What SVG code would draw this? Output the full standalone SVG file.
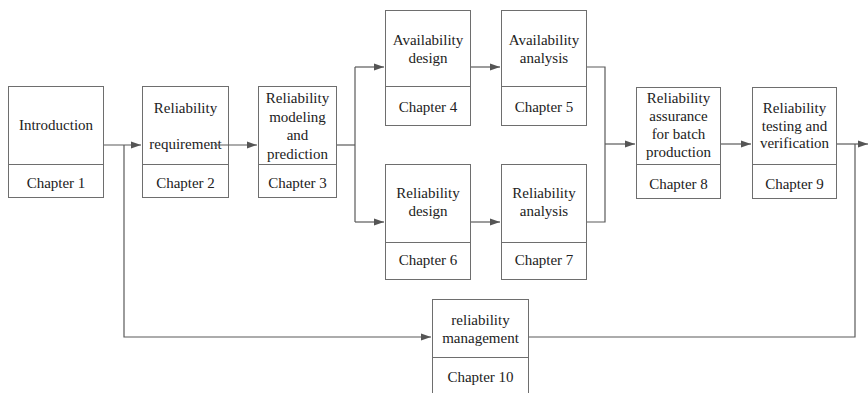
<svg xmlns="http://www.w3.org/2000/svg" width="868" height="393" viewBox="0 0 868 393">
<defs>
<marker id="ah" markerUnits="userSpaceOnUse" markerWidth="11" markerHeight="8" refX="10" refY="4" orient="auto">
<path d="M0,0.5 L10,4 L0,7.5 z" fill="#555"/>
</marker>
<style>
.box{fill:#fff;stroke:#6e6e6e;stroke-width:1}
.t{font-family:"Liberation Serif","Times New Roman",serif;font-size:15px;fill:#222;text-anchor:middle}
.c{fill:none;stroke:#5a5a5a;stroke-width:1.2}
</style>
</defs>
<rect width="868" height="393" fill="#fff"/>
<g id="n1">
<rect class="box" x="8.5" y="86.5" width="95" height="111"/>
<line class="box" x1="8.5" y1="164.5" x2="103.5" y2="164.5"/>
<text class="t" x="56" y="130">Introduction</text>
<text class="t" x="56" y="188">Chapter 1</text>
</g>
<g id="n2">
<rect class="box" x="142.5" y="86.5" width="86" height="111"/>
<line class="box" x1="142.5" y1="164.5" x2="228.5" y2="164.5"/>
<text class="t" x="185.5" y="113">Reliability</text>
<text class="t" x="185.5" y="149">requirement</text>
<text class="t" x="185.5" y="188">Chapter 2</text>
</g>
<g id="n3">
<rect class="box" x="258.5" y="86.5" width="78" height="111"/>
<line class="box" x1="258.5" y1="164.5" x2="336.5" y2="164.5"/>
<text class="t" x="297.5" y="103">Reliability</text>
<text class="t" x="297.5" y="121.5">modeling</text>
<text class="t" x="297.5" y="140">and</text>
<text class="t" x="297.5" y="158.5">prediction</text>
<text class="t" x="297.5" y="188">Chapter 3</text>
</g>
<g id="n4">
<rect class="box" x="385.5" y="10.5" width="85" height="115"/>
<line class="box" x1="385.5" y1="86.5" x2="470.5" y2="86.5"/>
<text class="t" x="428" y="45">Availability</text>
<text class="t" x="428" y="63">design</text>
<text class="t" x="428" y="112">Chapter 4</text>
</g>
<g id="n5">
<rect class="box" x="501.5" y="10.5" width="85" height="115"/>
<line class="box" x1="501.5" y1="86.5" x2="586.5" y2="86.5"/>
<text class="t" x="544" y="45">Availability</text>
<text class="t" x="544" y="63">analysis</text>
<text class="t" x="544" y="112">Chapter 5</text>
</g>
<g id="n6">
<rect class="box" x="385.5" y="164.5" width="85" height="115"/>
<line class="box" x1="385.5" y1="242.5" x2="470.5" y2="242.5"/>
<text class="t" x="428" y="198">Reliability</text>
<text class="t" x="428" y="216">design</text>
<text class="t" x="428" y="265">Chapter 6</text>
</g>
<g id="n7">
<rect class="box" x="501.5" y="164.5" width="85" height="115"/>
<line class="box" x1="501.5" y1="242.5" x2="586.5" y2="242.5"/>
<text class="t" x="544" y="198">Reliability</text>
<text class="t" x="544" y="216">analysis</text>
<text class="t" x="544" y="265">Chapter 7</text>
</g>
<g id="n8">
<rect class="box" x="636.5" y="87.5" width="84" height="111"/>
<line class="box" x1="636.5" y1="164.5" x2="720.5" y2="164.5"/>
<text class="t" x="678.5" y="103">Reliability</text>
<text class="t" x="678.5" y="121">assurance</text>
<text class="t" x="678.5" y="139">for batch</text>
<text class="t" x="678.5" y="157">production</text>
<text class="t" x="678.5" y="189">Chapter 8</text>
</g>
<g id="n9">
<rect class="box" x="752.5" y="87.5" width="84" height="111"/>
<line class="box" x1="752.5" y1="164.5" x2="836.5" y2="164.5"/>
<text class="t" x="794.5" y="113">Reliability</text>
<text class="t" x="794.5" y="130.5">testing and</text>
<text class="t" x="794.5" y="148">verification</text>
<text class="t" x="794.5" y="189">Chapter 9</text>
</g>
<g id="n10">
<rect class="box" x="432.5" y="299.5" width="96" height="100"/>
<line class="box" x1="432.5" y1="357.5" x2="528.5" y2="357.5"/>
<text class="t" x="480.5" y="325">reliability</text>
<text class="t" x="480.5" y="343">management</text>
<text class="t" x="480.5" y="382">Chapter 10</text>
</g>
<g id="connectors">
<path class="c" d="M104,145 H141" marker-end="url(#ah)"/>
<path class="c" d="M124,145 V337 H431" marker-end="url(#ah)"/>
<path class="c" d="M214,145 H257" marker-end="url(#ah)"/>
<path class="c" d="M337,145 H355"/>
<path class="c" d="M355,67 V222"/>
<path class="c" d="M355,67 H384" marker-end="url(#ah)"/>
<path class="c" d="M355,222 H384" marker-end="url(#ah)"/>
<path class="c" d="M471,67 H500" marker-end="url(#ah)"/>
<path class="c" d="M471,222 H500" marker-end="url(#ah)"/>
<path class="c" d="M587,67 H605 V222 H587"/>
<path class="c" d="M605,144 H635" marker-end="url(#ah)"/>
<path class="c" d="M721,144 H751" marker-end="url(#ah)"/>
<path class="c" d="M837,144 H868" marker-end="url(#ah)"/>
<path class="c" d="M529,337 H855 V144"/>
</g>
</svg>
